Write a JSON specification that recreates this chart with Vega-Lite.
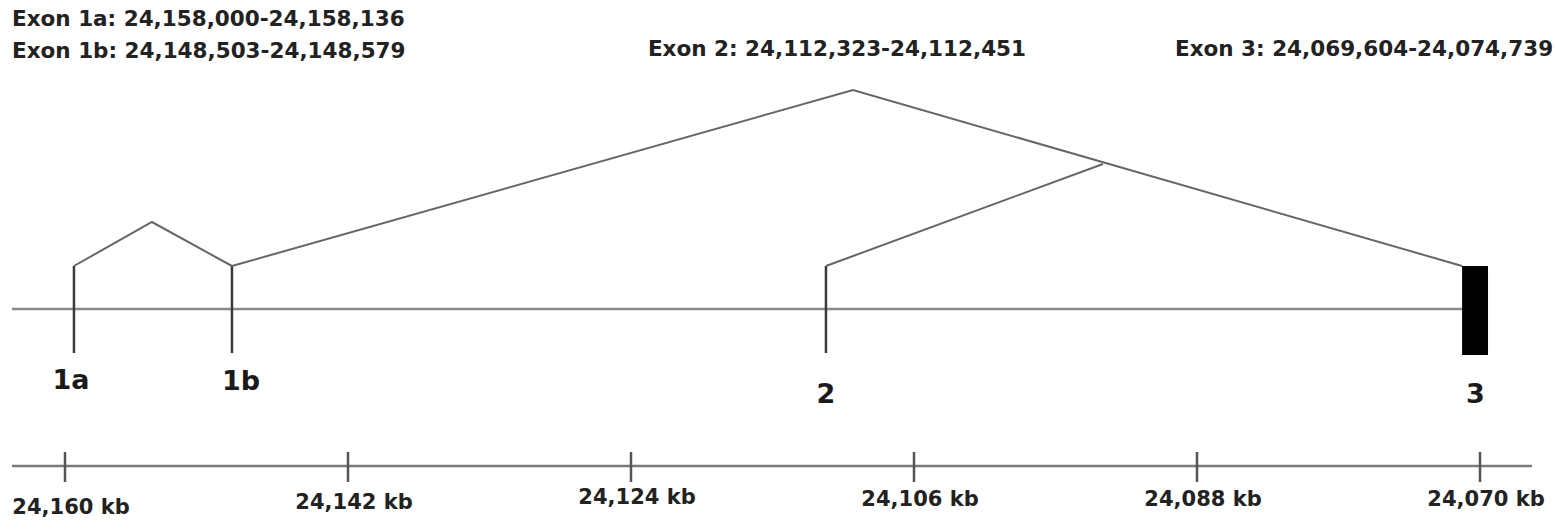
{
  "$schema": "https://vega.github.io/schema/vega-lite/v6.json",
  "width": 1555,
  "height": 529,
  "padding": 0,
  "autosize": {"type": "none"},
  "background": "white",
  "config": {"view": {"stroke": null}, "font": "DejaVu Sans"},
  "datasets": {
    "rules": [
      {"kind": "backbone", "pos": 24163.37, "pos2": 24071.14, "y": 309, "y2": 309},
      {"kind": "axis", "pos": 24163.37, "pos2": 24066.69, "y": 466, "y2": 466},
      {"kind": "exon", "pos": 24159.43, "pos2": 24159.43, "y": 266, "y2": 353},
      {"kind": "exon", "pos": 24149.38, "pos2": 24149.38, "y": 266, "y2": 353},
      {"kind": "exon", "pos": 24111.6, "pos2": 24111.6, "y": 266, "y2": 353},
      {"kind": "tick", "pos": 24160, "pos2": 24160, "y": 452, "y2": 482},
      {"kind": "tick", "pos": 24142, "pos2": 24142, "y": 452, "y2": 482},
      {"kind": "tick", "pos": 24124, "pos2": 24124, "y": 452, "y2": 482},
      {"kind": "tick", "pos": 24106, "pos2": 24106, "y": 452, "y2": 482},
      {"kind": "tick", "pos": 24088, "pos2": 24088, "y": 452, "y2": 482},
      {"kind": "tick", "pos": 24070, "pos2": 24070, "y": 452, "y2": 482}
    ],
    "splices": [
      {"path": "1a-1b", "order": 1, "pos": 24159.43, "y": 266},
      {"path": "1a-1b", "order": 2, "pos": 24154.47, "y": 222},
      {"path": "1a-1b", "order": 3, "pos": 24149.38, "y": 266},
      {"path": "1b-3", "order": 1, "pos": 24149.38, "y": 266},
      {"path": "1b-3", "order": 2, "pos": 24109.88, "y": 90},
      {"path": "1b-3", "order": 3, "pos": 24071.14, "y": 266},
      {"path": "2-3", "order": 1, "pos": 24111.6, "y": 266},
      {"path": "2-3", "order": 2, "pos": 24093.98, "y": 164}
    ],
    "box": [
      {"exon": "3", "start": 24071.14, "end": 24069.49, "y": 266, "y2": 355}
    ],
    "exonLabels": [
      {"label": "1a", "pos": 24159.62, "y": 381},
      {"label": "1b", "pos": 24148.8, "y": 382},
      {"label": "2", "pos": 24111.6, "y": 395},
      {"label": "3", "pos": 24070.3, "y": 395}
    ],
    "tickLabels": [
      {"label": "24,160 kb", "pos": 24160, "y": 508},
      {"label": "24,142 kb", "pos": 24142, "y": 503},
      {"label": "24,124 kb", "pos": 24124, "y": 498},
      {"label": "24,106 kb", "pos": 24106, "y": 500},
      {"label": "24,088 kb", "pos": 24088, "y": 500},
      {"label": "24,070 kb", "pos": 24070, "y": 500}
    ],
    "headersLeft": [
      {"text": "Exon 1a: 24,158,000-24,158,136", "pos": 24163.37, "y": 20},
      {"text": "Exon 1b: 24,148,503-24,148,579", "pos": 24163.37, "y": 52},
      {"text": "Exon 3: 24,069,604-24,074,739", "pos": 24089.4, "y": 50}
    ],
    "headersCenter": [
      {"text": "Exon 2: 24,112,323-24,112,451", "pos": 24110.9, "y": 50}
    ]
  },
  "layer": [
    {
      "data": {"name": "rules"},
      "mark": {"type": "rule", "strokeWidth": 2.5},
      "encoding": {
        "x": {"field": "pos", "type": "quantitative", "axis": null, "scale": {"domain": [24065.23, 24164.134], "reverse": true, "nice": false, "zero": false}},
        "x2": {"field": "pos2"},
        "y": {"field": "y", "type": "quantitative", "axis": null, "scale": {"domain": [0, 529], "reverse": true, "nice": false, "zero": false}},
        "y2": {"field": "y2"},
        "color": {"field": "kind", "type": "nominal", "legend": null, "scale": {"domain": ["backbone", "axis", "exon", "tick"], "range": ["#8a8a8a", "#7a7a7a", "#3a3a3a", "#555555"]}}
      }
    },
    {
      "data": {"name": "splices"},
      "mark": {"type": "line", "strokeWidth": 2, "color": "#666666"},
      "encoding": {
        "x": {"field": "pos", "type": "quantitative", "axis": null, "scale": {"domain": [24065.23, 24164.134], "reverse": true, "nice": false, "zero": false}},
        "y": {"field": "y", "type": "quantitative", "axis": null, "scale": {"domain": [0, 529], "reverse": true, "nice": false, "zero": false}},
        "detail": {"field": "path", "type": "nominal"},
        "order": {"field": "order", "type": "quantitative"}
      }
    },
    {
      "data": {"name": "box"},
      "mark": {"type": "rect", "color": "#000000"},
      "encoding": {
        "x": {"field": "start", "type": "quantitative", "axis": null, "scale": {"domain": [24065.23, 24164.134], "reverse": true, "nice": false, "zero": false}},
        "x2": {"field": "end"},
        "y": {"field": "y", "type": "quantitative", "axis": null, "scale": {"domain": [0, 529], "reverse": true, "nice": false, "zero": false}},
        "y2": {"field": "y2"}
      }
    },
    {
      "data": {"name": "exonLabels"},
      "mark": {"type": "text", "fontSize": 27, "fontWeight": "bold", "color": "#1a1a1a", "baseline": "middle", "align": "center"},
      "encoding": {
        "x": {"field": "pos", "type": "quantitative", "axis": null, "scale": {"domain": [24065.23, 24164.134], "reverse": true, "nice": false, "zero": false}},
        "y": {"field": "y", "type": "quantitative", "axis": null, "scale": {"domain": [0, 529], "reverse": true, "nice": false, "zero": false}},
        "text": {"field": "label"}
      }
    },
    {
      "data": {"name": "tickLabels"},
      "mark": {"type": "text", "fontSize": 21, "fontWeight": "bold", "color": "#222222", "baseline": "middle", "align": "center", "dx": 6},
      "encoding": {
        "x": {"field": "pos", "type": "quantitative", "axis": null, "scale": {"domain": [24065.23, 24164.134], "reverse": true, "nice": false, "zero": false}},
        "y": {"field": "y", "type": "quantitative", "axis": null, "scale": {"domain": [0, 529], "reverse": true, "nice": false, "zero": false}},
        "text": {"field": "label"}
      }
    },
    {
      "data": {"name": "headersLeft"},
      "mark": {"type": "text", "fontSize": 21.5, "fontWeight": "bold", "color": "#222222", "baseline": "middle", "align": "left"},
      "encoding": {
        "x": {"field": "pos", "type": "quantitative", "axis": null, "scale": {"domain": [24065.23, 24164.134], "reverse": true, "nice": false, "zero": false}},
        "y": {"field": "y", "type": "quantitative", "axis": null, "scale": {"domain": [0, 529], "reverse": true, "nice": false, "zero": false}},
        "text": {"field": "text"}
      }
    },
    {
      "data": {"name": "headersCenter"},
      "mark": {"type": "text", "fontSize": 21.5, "fontWeight": "bold", "color": "#222222", "baseline": "middle", "align": "center"},
      "encoding": {
        "x": {"field": "pos", "type": "quantitative", "axis": null, "scale": {"domain": [24065.23, 24164.134], "reverse": true, "nice": false, "zero": false}},
        "y": {"field": "y", "type": "quantitative", "axis": null, "scale": {"domain": [0, 529], "reverse": true, "nice": false, "zero": false}},
        "text": {"field": "text"}
      }
    }
  ]
}
